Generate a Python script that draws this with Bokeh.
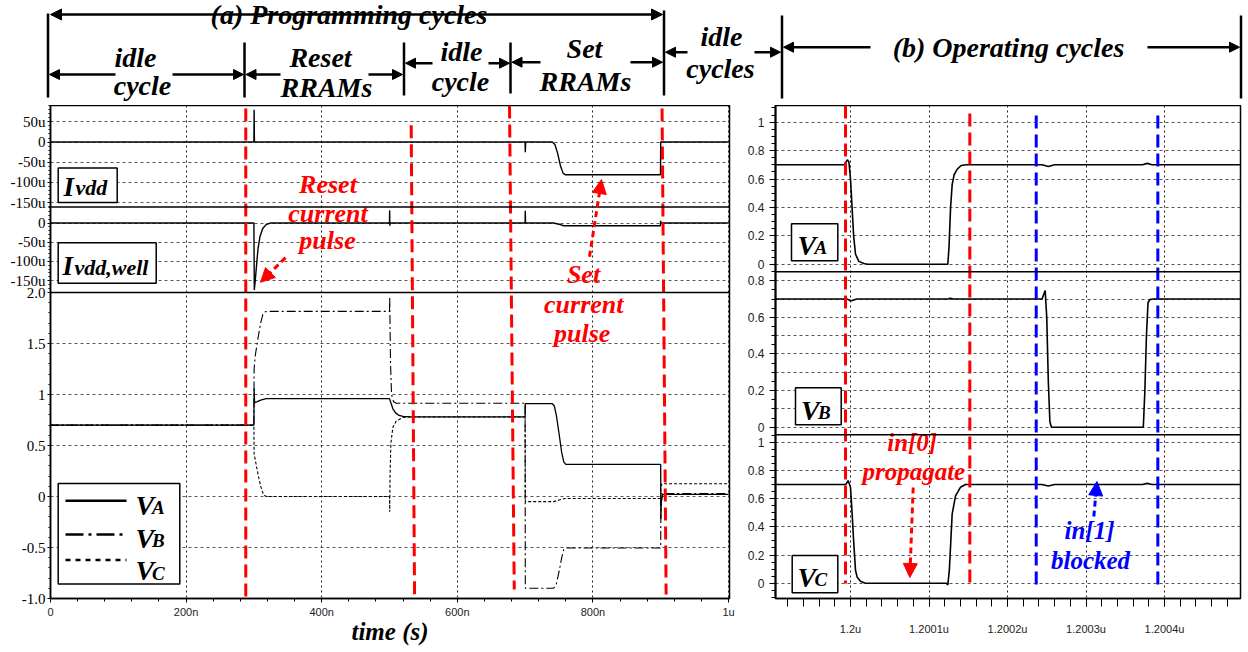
import numpy as np
from bokeh.plotting import figure
from bokeh.layouts import column, row
from bokeh.models import Range1d, LinearAxis, FixedTicker, Grid, Arrow, NormalHead, Span
from bokeh.core.properties import value
from bokeh.embed import file_html
from bokeh.resources import INLINE

# ---------------------------------------------------------------
# (a) programming cycles, time in ns
# ---------------------------------------------------------------
t_va = [0, 300, 300.3, 301, 305, 310, 318, 500, 502, 505, 509, 514, 520, 530, 700, 700.3,
        740, 743, 746, 750, 754, 757, 760, 900, 900.2, 901, 903, 1000]
va = [0.70, 0.70, 1.06, 0.92, 0.93, 0.945, 0.96, 0.96, 0.92, 0.86, 0.82, 0.795, 0.785, 0.78, 0.78, 0.91,
      0.91, 0.89, 0.80, 0.62, 0.43, 0.34, 0.315, 0.315, -0.22, -0.05, 0.02, 0.02]

t_vb = [0, 300, 300.3, 302, 306, 310, 313, 316, 320, 500, 500.3, 501.5, 503, 506, 510, 700, 700.3,
        742, 746, 750, 754, 757, 760, 900, 900.3, 1000]
vb = [0.70, 0.70, 1.25, 1.38, 1.55, 1.70, 1.78, 1.81, 1.815, 1.815, 1.96, 1.30, 1.00, 0.93, 0.915, 0.915, -0.90,
      -0.90, -0.86, -0.74, -0.60, -0.52, -0.505, -0.505, 0.03, 0.03]

t_vc = [0, 300, 300.3, 302, 306, 310, 314, 318, 500, 500.3, 500.8, 502, 505, 510, 520, 530, 700, 700.3,
        742, 750, 758, 900, 900.3, 902, 1000]
vc = [0.70, 0.70, 0.42, 0.36, 0.22, 0.10, 0.02, 0.0, 0.0, -0.15, 0.20, 0.52, 0.68, 0.74, 0.775, 0.78, 0.78, -0.05,
      -0.05, -0.035, -0.02, -0.02, 0.10, 0.125, 0.125]

# supply currents in uA
t_ivdd = [0, 300, 300.3, 300.8, 700, 700.3, 700.8, 740, 744, 748, 752, 756, 759, 899.7, 900, 1000]
ivdd = [0, 0, 80, 0, 0, -25, 0, 0, -6, -28, -58, -77, -81, -81, 0, 0]

t_well = [0, 300, 300.6, 302, 304, 306, 309, 313, 318, 324, 500, 500.2, 500.5, 501, 700, 700.2, 700.7,
          742, 750, 757, 899.7, 900, 900.4, 901, 1000]
ivdd_well = [0, 0, -174, -150, -108, -68, -35, -14, -4, 0, 0, 33, -7, 0, 0, 32, 0,
             0, -3, -7, -7, 6, 0, 0, 0]

prog_ticks = [0, 200, 400, 600, 800, 1000]
prog_tick_labels = ["0", "200n", "400n", "600n", "800n", "1u"]

ivdd_ticks = [50, 0, -50, -100, -150]
ivdd_tick_labels = ["50u", "0", "-50u", "-100u", "-150u"]
well_ticks = [0, -50, -100, -150]
well_tick_labels = ["0", "-50u", "-100u", "-150u"]
v_ticks = [2.0, 1.5, 1.0, 0.5, 0.0, -0.5, -1.0]
v_tick_labels = ["2.0", "1.5", "1", "0.5", "0", "-0.5", "-1.0"]

# phase boundaries (ns) at the top and bottom of the stack
phase_top_ns = [288, 532, 677, 902]
phase_bot_ns = [288, 537, 684, 908]

# ---------------------------------------------------------------
# (b) operating cycles, time in ps after 1.2us
# ---------------------------------------------------------------
t_va_op = [-96, -8, -4, -2, 0, 2, 4, 6.4, 10.6, 17, 22, 124, 125.5, 127.5, 129.5, 132, 136, 141, 148,
           244, 252, 260, 372, 378, 384, 497]
va_op = [0.70, 0.70, 0.735, 0.72, 0.60, 0.40, 0.20, 0.07, 0.02, 0.005, 0.0, 0.0, 0.12, 0.40, 0.56, 0.63, 0.67, 0.695, 0.70,
         0.70, 0.688, 0.70, 0.70, 0.71, 0.70, 0.70]

t_vb_op = [-96, -4, 0, 4, 8, 124, 127, 131, 244, 248, 250, 252, 254, 256, 373, 375, 377, 379, 381.3, 385, 497]
vb_op = [0.70, 0.70, 0.69, 0.695, 0.70, 0.70, 0.705, 0.70, 0.70, 0.747, 0.60, 0.25, 0.03, 0.0,
         0.0, 0.20, 0.50, 0.68, 0.697, 0.70, 0.70]

t_vc_op = [-96, -6, -3, 0, 2, 4, 6.4, 8.5, 12.7, 19, 24, 122, 124, 126, 127.8, 129.5, 133.8, 140, 146.5,
           244, 252, 260, 372, 378, 384, 497]
vc_op = [0.70, 0.70, 0.728, 0.68, 0.50, 0.30, 0.09, 0.043, 0.014, 0.0, 0.0, 0.0, -0.012, 0.10, 0.30, 0.49, 0.62, 0.68, 0.70,
         0.70, 0.69, 0.70, 0.70, 0.708, 0.70, 0.70]

op_ticks = [0, 100, 200, 300, 400]
op_tick_labels = ["1.2u", "1.2001u", "1.2002u", "1.2003u", "1.2004u"]

va_ticks = [0, 0.2, 0.4, 0.6, 0.8, 1.0]
va_tick_labels = ["0", "0.2", "0.4", "0.6", "0.8", "1"]
vb_ticks = [0, 0.2, 0.4, 0.6, 0.8]
vb_tick_labels = ["0", "0.2", "0.4", "0.6", "0.8"]
vc_ticks = [0, 0.2, 0.4, 0.6, 0.8, 1.0]
vc_tick_labels = ["0", "0.2", "0.4", "0.6", "0.8", "1"]

# in[0] / in[1] transition windows (ps)
op_edges_ps = [-6.4, 152, 236.6, 391.5]
op_edge_colors = ["#ff0000", "#ff0000", "#0000ff", "#0000ff"]

# ---------------------------------------------------------------
# page geometry (page pixels)
# ---------------------------------------------------------------
PAGE_W = 1248
STRIP_H = 105
BODY_H = 547
L_W = 737
R_W = PAGE_W - L_W
LF = dict(x0=50, x1=729, top=105, bot=604)     # left frame
RF = dict(x0=775, x1=1240, top=105, bot=598)   # right frame

# stacked bands: (px_top, px_bot, value_at_top, value_at_bottom)
L_PANELS = {
    "ivdd": (105.0, 207.7, 90.5, -160.8),
    "well": (207.7, 294.3, 41.9, -180.9),
    "v": (294.3, 604.0, 2.0, -1.0),
}
R_PANELS = {
    "va": (105.0, 271.3, 1.1176, -0.0535),
    "vb": (271.3, 434.3, 0.849, -0.0415),
    "vc": (434.3, 598.0, 1.0525, -0.1085),
}

RED = "#ff0000"
BLUE = "#0000ff"
SERIF = "Liberation Serif"
SANS = "Liberation Sans"


def band_range(panel, frame_top, frame_bot):
    top, bot, hi, lo = panel
    k = (hi - lo) / (bot - top)
    return Range1d(start=lo - (frame_bot - bot) * k, end=hi + (top - frame_top) * k)


def band_px(v, panel):
    top, bot, hi, lo = panel
    return round(bot - (v - lo) / (hi - lo) * (bot - top), 3)


def stacked_ticks(panels, spec):
    ticks, minors, grid, labels = [], [], [], {}
    for name, (vals, labs, step, grid_step) in spec.items():
        panel = panels[name]
        top, bot, hi, lo = panel
        for v, lab in zip(vals, labs):
            px = band_px(v, panel)
            ticks.append(px)
            labels[px] = lab
        m = np.arange(np.ceil(lo / step) * step, hi + 1e-9, step)
        minors += [band_px(float(x), panel) for x in m]
        g = np.arange(np.ceil(lo / grid_step) * grid_step, hi + 1e-9, grid_step)
        grid += [band_px(float(x), panel) for x in g]
    return ticks, minors, grid, labels


def txt(fig, xs, ys, texts, size, color="black", align="center", style="bold italic"):
    # ys are baselines; the renderer sets the alphabetic baseline about a quarter em low
    fig.text(x=xs, y=[y - 0.25 * size for y in ys], text=texts, text_font=value(SERIF),
             text_font_style=style, text_font_size=f"{size}px", text_color=color,
             text_align=align, text_baseline="alphabetic")


def arrow(fig, x0, y0, x1, y1, color="black", dash="solid", width=2.5, head=10, both=False):
    mk = lambda: NormalHead(size=head, fill_color=color, line_color=color, line_width=1)
    fig.add_layout(Arrow(x_start=x0, y_start=y0, x_end=x1, y_end=y1, line_color=color,
                         line_width=width, line_dash=dash, end=mk(), start=mk() if both else None))


def base_fig(width, height, frame, offset_x):
    return figure(width=width, height=height, title=None,
                  x_range=Range1d(frame["x0"], frame["x1"]), y_range=Range1d(frame["bot"], frame["top"]),
                  x_axis_type=None, y_axis_type=None, output_backend="svg", toolbar_location=None,
                  min_border_left=frame["x0"] - offset_x, min_border_right=offset_x + width - frame["x1"],
                  min_border_top=frame["top"] - STRIP_H, min_border_bottom=STRIP_H + height - frame["bot"],
                  outline_line_color="black", outline_line_width=1.5,
                  background_fill_color="white", border_fill_color="white")


# ---------------------------------------------------------------
# header strip with the cycle arrows
# ---------------------------------------------------------------
strip = figure(width=PAGE_W, height=STRIP_H, title=None, x_range=Range1d(0, PAGE_W), y_range=Range1d(STRIP_H, 0),
               x_axis_type=None, y_axis_type=None, output_backend="svg", toolbar_location=None,
               min_border=0, outline_line_color=None)
strip.segment(x0=[47.5, 244, 403.5, 510, 663.5, 781.5, 1240.5], y0=[13, 42, 42, 42, 10, 15, 15],
              x1=[47.5, 244, 403.5, 510, 663.5, 781.5, 1240.5], y1=[97, 97, 95, 93, 95, 98, 98],
              line_color="black", line_width=2.5)
txt(strip, [348.5, 1008], [21, 54], ["(a) Programming cycles", "(b) Operating cycles"], 28)
txt(strip, [135, 320, 461, 584, 721], [64, 64, 58, 55, 43], ["idle", "Reset", "idle", "Set", "idle"], 28)
txt(strip, [142, 326, 460, 585, 720], [92, 94, 88, 88, 75], ["cycle", "RRAMs", "cycle", "RRAMs", "cycles"], 28)
arrow(strip, 50, 14, 662, 14, both=True, head=11)
for tail, head, y in [(115, 49, 74), (172, 243, 74), (280, 245.5, 74), (368, 402, 74),
                      (432, 405, 62.7), (488, 509, 62.7), (540, 511.5, 61.7), (630, 662, 61.7),
                      (687, 665, 51.7), (754, 780, 51.7), (870, 783, 46.7), (1147, 1239, 46.7)]:
    arrow(strip, tail, y, head, y)

# ---------------------------------------------------------------
# left: programming waveforms
# ---------------------------------------------------------------
left = base_fig(L_W, BODY_H, LF, 0)
ns_per_px = 1000 / 678.0
left.extra_x_ranges = {"t": Range1d(0, (LF["x1"] - LF["x0"]) * ns_per_px)}
left.extra_y_ranges = {k: band_range(p, LF["top"], LF["bot"]) for k, p in L_PANELS.items()}

l_ticks, l_minor, l_grid, l_labels = stacked_ticks(L_PANELS, {
    "ivdd": (ivdd_ticks, ivdd_tick_labels, 10, 50),
    "well": (well_ticks, well_tick_labels, 10, 50),
    "v": (v_ticks, v_tick_labels, 0.1, 0.5),
})
y_ax = LinearAxis(ticker=FixedTicker(ticks=l_ticks, minor_ticks=l_minor), major_label_overrides=l_labels,
                  major_label_text_font=SERIF, major_label_text_font_size="15px", major_label_text_color="black",
                  major_tick_out=3, major_tick_in=0, minor_tick_out=2, minor_tick_in=0, major_label_standoff=2,
                  axis_line_width=1.5)
left.add_layout(y_ax, "left")
x_ax = LinearAxis(x_range_name="t",
                  ticker=FixedTicker(ticks=prog_ticks, minor_ticks=list(range(0, 1001, 40))),
                  major_label_overrides=dict(zip(prog_ticks, prog_tick_labels)),
                  major_label_text_font=SANS, major_label_text_font_size="11px", major_label_text_color="#222",
                  major_tick_out=4, major_tick_in=0, minor_tick_out=3, minor_tick_in=0, major_label_standoff=3,
                  axis_label="time (s)", axis_label_text_font=SERIF, axis_label_text_font_style="bold italic",
                  axis_label_text_font_size="25px", axis_label_text_color="black", axis_label_standoff=-3,
                  axis_line_width=1.5)
left.add_layout(x_ax, "below")
left.add_layout(Grid(dimension=0, x_range_name="t", ticker=FixedTicker(ticks=prog_ticks),
                     grid_line_color="#222", grid_line_dash="2 3", grid_line_width=1))
left.add_layout(Grid(dimension=1, ticker=FixedTicker(ticks=l_grid),
                     grid_line_color="#555", grid_line_dash="3 3", grid_line_width=1))

left.line(t_ivdd, ivdd, x_range_name="t", y_range_name="ivdd", line_color="black", line_width=1.4)
left.line(t_well, ivdd_well, x_range_name="t", y_range_name="well", line_color="black", line_width=1.4)
left.line(t_va, va, x_range_name="t", y_range_name="v", line_color="black", line_width=1.3)
left.line(t_vb, vb, x_range_name="t", y_range_name="v", line_color="black", line_width=1.1, line_dash="9 3 2 3")
left.line(t_vc, vc, x_range_name="t", y_range_name="v", line_color="black", line_width=1.1, line_dash="3 2")

for y in (L_PANELS["ivdd"][1], L_PANELS["well"][1]):
    left.add_layout(Span(location=y, dimension="width", line_color="black", line_width=1.5))

left.segment(x0=phase_top_ns, y0=[108, 125, 105, 108], x1=phase_bot_ns, y1=[604, 604, 595, 600],
             x_range_name="t", line_color=RED, line_width=3, line_dash="13 6")

# panel name boxes
left.quad(left=[57.7, 57.7], right=[116.7, 155.7], top=[168.3, 244], bottom=[203.3, 285],
          fill_color="white", line_color="black", line_width=1.5)
txt(left, [63, 62], [194, 274], ["I", "I"], 27, align="left")
txt(left, [75, 74], [194, 274], ["vdd", "vdd,well"], 22, align="left")

# legend
left.quad(left=[57.7], right=[179.3], top=[487.7], bottom=[589.3],
          fill_color="white", line_color="black", line_width=1.5)
left.line([65, 126], [505, 505], line_color="black", line_width=2.5)
left.line([65, 126], [539.3, 539.3], line_color="black", line_width=2.5, line_dash="18 5 3 5")
left.line([65, 126], [565, 565], line_color="black", line_width=2.5, line_dash="5 5")
txt(left, [135, 135, 135], [516.5, 550, 583], ["V", "V", "V"], 28, align="left")
txt(left, [151.5, 151.5, 151.5], [516.5, 550, 583], ["A", "B", "C"], 19, align="left")

# current pulse call-outs
txt(left, [327.5, 327.5, 327], [191.7, 221, 248], ["Reset", "current", "pulse"], 26, color=RED)
txt(left, [583, 583.3, 581.7], [282.7, 312.7, 342.7], ["Set", "current", "pulse"], 26, color=RED)
arrow(left, 285, 259, 260, 284, color=RED, dash="6 4", width=3, head=14)
arrow(left, 589, 258, 601, 180, color=RED, dash="6 4", width=3, head=14)

# ---------------------------------------------------------------
# right: operating waveforms
# ---------------------------------------------------------------
right = base_fig(R_W, BODY_H, RF, L_W)
ps_per_px = 100 / 78.5
right.extra_x_ranges = {"ps": Range1d((RF["x0"] - 850) * ps_per_px, (RF["x1"] - 850) * ps_per_px)}
right.extra_y_ranges = {k: band_range(p, RF["top"], RF["bot"]) for k, p in R_PANELS.items()}

r_ticks, r_minor, r_grid, r_labels = stacked_ticks(R_PANELS, {
    "va": (va_ticks, va_tick_labels, 0.05, 0.2),
    "vb": (vb_ticks, vb_tick_labels, 0.05, 0.1),
    "vc": (vc_ticks, vc_tick_labels, 0.05, 0.2),
})
ry_ax = LinearAxis(ticker=FixedTicker(ticks=r_ticks, minor_ticks=r_minor), major_label_overrides=r_labels,
                   major_label_text_font=SANS, major_label_text_font_size="12px", major_label_text_color="#222",
                   major_tick_out=6, major_tick_in=0, minor_tick_out=4, minor_tick_in=0, major_label_standoff=5,
                   axis_line_width=2)
right.add_layout(ry_ax, "left")
rx_ax = LinearAxis(x_range_name="ps",
                   ticker=FixedTicker(ticks=op_ticks, minor_ticks=list(range(-80, 481, 20))),
                   major_label_overrides=dict(zip(op_ticks, op_tick_labels)),
                   major_label_text_font=SANS, major_label_text_font_size="11px", major_label_text_color="#222",
                   major_tick_out=8, major_tick_in=0, minor_tick_out=8, minor_tick_in=0, major_label_standoff=16,
                   axis_line_width=1.5)
right.add_layout(rx_ax, "below")
right.add_layout(Grid(dimension=0, x_range_name="ps", ticker=FixedTicker(ticks=op_ticks),
                      grid_line_color="#222", grid_line_dash="2 3", grid_line_width=1))
right.add_layout(Grid(dimension=1, ticker=FixedTicker(ticks=r_grid),
                      grid_line_color="#555", grid_line_dash="3 3", grid_line_width=1))

right.line(t_va_op, va_op, x_range_name="ps", y_range_name="va", line_color="black", line_width=1.6)
right.line(t_vb_op, vb_op, x_range_name="ps", y_range_name="vb", line_color="black", line_width=1.6)
right.line(t_vc_op, vc_op, x_range_name="ps", y_range_name="vc", line_color="black", line_width=1.6)

for y in (R_PANELS["va"][1], R_PANELS["vb"][1]):
    right.add_layout(Span(location=y, dimension="width", line_color="black", line_width=1.5))

for x, c, y0, y1 in zip(op_edges_ps, op_edge_colors, [105, 113, 115, 115], [583, 587, 588, 588]):
    right.segment(x0=[x], y0=[y0], x1=[x], y1=[y1], x_range_name="ps",
                  line_color=c, line_width=3, line_dash="13 6")

right.quad(left=[791, 795, 791.7], right=[837.3, 840.7, 837.3], top=[223.3, 387.3, 555], bottom=[260.3, 424.3, 592.3],
           fill_color="white", line_color="black", line_width=1.5)
txt(right, [797, 800.5, 797], [251.7, 416.7, 584], ["V", "V", "V"], 28, align="left")
txt(right, [814, 817.5, 814], [251.7, 416.7, 584], ["A", "B", "C"], 19, align="left")

txt(right, [911.7, 913.3], [448, 477], ["in[0]", "propagate"], 25, color=RED)
txt(right, [1089, 1090], [536, 566], ["in[1]", "blocked"], 25, color=BLUE)
arrow(right, 912.7, 487, 909.3, 577, color=RED, dash="6 4", width=3, head=14)
arrow(right, 1093.3, 516, 1096.5, 481, color=BLUE, dash="6 4", width=3, head=14)

page = column(strip, row(left, right))
open("out.html", "w").write(file_html(page, INLINE))
